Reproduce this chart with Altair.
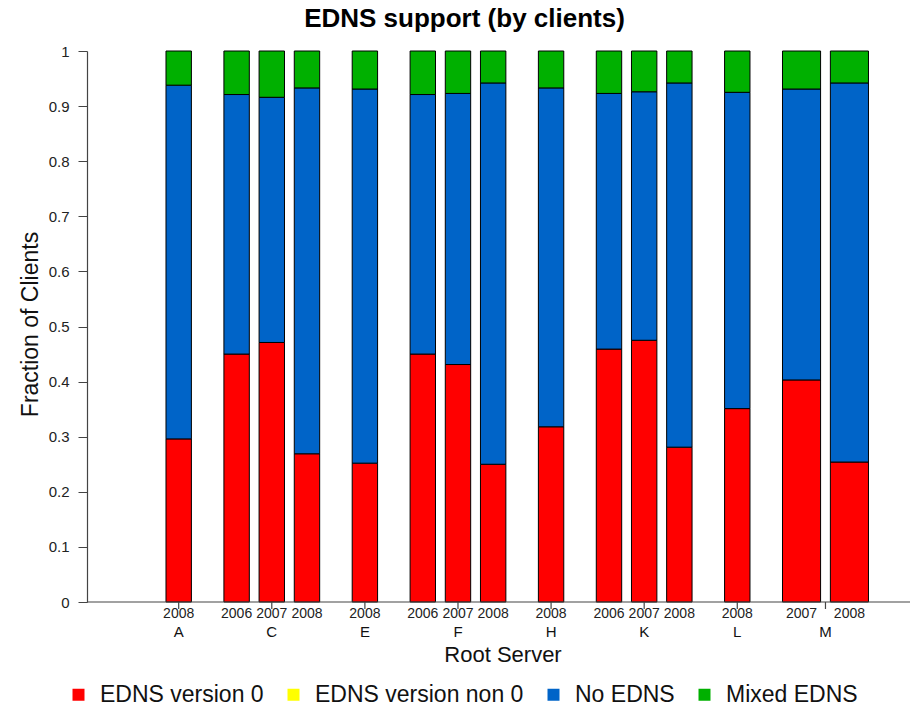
import altair as alt
import pandas as pd

# Root servers and collection years, one entry per bar
servers = ["A", "C", "C", "C", "E", "F", "F", "F", "H", "K", "K", "K", "L", "M", "M"]
years = [2008, 2006, 2007, 2008, 2008, 2006, 2007, 2008, 2008, 2006, 2007, 2008, 2008, 2007, 2008]

# Fraction of clients in each EDNS class
edns_v0 = [0.296, 0.450, 0.471, 0.269, 0.252, 0.450, 0.431, 0.250, 0.318, 0.459, 0.475, 0.281, 0.351, 0.403, 0.254]
edns_non0 = [0.0] * 15
no_edns = [0.642, 0.471, 0.445, 0.664, 0.679, 0.471, 0.492, 0.692, 0.615, 0.464, 0.451, 0.661, 0.574, 0.528, 0.688]
mixed_edns = [0.062, 0.079, 0.084, 0.067, 0.069, 0.079, 0.077, 0.058, 0.067, 0.077, 0.074, 0.058, 0.075, 0.069, 0.058]

categories = ["EDNS version 0", "EDNS version non 0", "No EDNS", "Mixed EDNS"]
colors = ["#ff0000", "#ffff00", "#0064c8", "#00b000"]

# Bar layout along the x scale (units of one bar width)
LEAD = 3.11
GROUP_GAP = 1.28
INNER_GAP = 0.385
WIDE = {"M": 1.5}
X_MAX = 32.4

W, H = 823, 551
FONT = "Liberation Sans"
AXIS_COLOR = "#444"

rows, bars = [], []
x = LEAD
prev = None
for i, (srv, yr) in enumerate(zip(servers, years)):
    if prev is not None:
        x += INNER_GAP if srv == prev else GROUP_GAP
    w = WIDE.get(srv, 1.0)
    x0, x1 = x, x + w
    x = x1
    prev = srv
    bars.append({"bar": i, "server": srv, "year": str(yr), "x0": x0, "x1": x1, "xc": (x0 + x1) / 2})
    for k, vals in enumerate([edns_v0, edns_non0, no_edns, mixed_edns]):
        rows.append({"bar": i, "x0": x0, "x1": x1, "category": categories[k], "order": k, "value": vals[i]})

long_df = pd.DataFrame(rows)
bar_df = pd.DataFrame(bars)
grp_df = bar_df.groupby("server", as_index=False).agg(lo=("x0", "min"), hi=("x1", "max"))
grp_df["center"] = (grp_df["lo"] + grp_df["hi"]) / 2

xscale = alt.Scale(domain=[0, X_MAX], nice=False, zero=False)

stacked = (
    alt.Chart(long_df)
    .transform_stack(stack="value", groupby=["bar"], as_=["y0", "y1"],
                     sort=[alt.SortField("order", order="ascending")])
    .transform_filter("datum.value > 0")
    .mark_bar(stroke="black", strokeWidth=1)
    .encode(
        x=alt.X("x0:Q", scale=xscale, axis=None),
        x2="x1:Q",
        y=alt.Y("y0:Q", scale=alt.Scale(domain=[0, 1], nice=False),
                axis=alt.Axis(values=[i / 10 for i in range(11)], format="~g", grid=False,
                              tickSize=9, tickColor=AXIS_COLOR, domainColor=AXIS_COLOR, domainWidth=1.2,
                              labelFont=FONT, labelFontSize=15, labelColor="#222", labelPadding=9,
                              title="Fraction of Clients", titleFont=FONT, titleFontSize=23,
                              titleFontWeight="normal", titleColor="#111",
                              titleBaseline="middle", titleX=-57, titleY=273)),
        y2="y1:Q",
        color=alt.Color("category:N", scale=alt.Scale(domain=categories, range=colors),
                        legend=alt.Legend(orient="none", legendX=-20, legendY=632,
                                          direction="horizontal", title=None,
                                          symbolType="square", symbolSize=144,
                                          symbolStrokeWidth=0, labelFont=FONT,
                                          labelFontSize=23, labelColor="#111",
                                          labelOffset=10, columnPadding=18, labelLimit=400)),
        order=alt.Order("order:Q"),
    )
)

# x baseline across the full plot width
baseline = alt.Chart(pd.DataFrame({"k": [0]})).mark_rule(color=AXIS_COLOR, strokeWidth=1.2).encode(
    x=alt.value(0), x2=alt.value(W), y=alt.value(H)
)

year_labels = alt.Chart(bar_df).mark_text(font=FONT, fontSize=14, color="#222", baseline="middle").encode(
    x=alt.X("xc:Q", scale=xscale, axis=None),
    y=alt.value(H + 12),
    text="year:N",
)

server_labels = alt.Chart(grp_df).mark_text(font=FONT, fontSize=15, color="#111", baseline="middle").encode(
    x=alt.X("center:Q", scale=xscale, axis=None),
    y=alt.value(H + 30),
    text="server:N",
)

group_ticks = alt.Chart(grp_df).mark_rule(color=AXIS_COLOR, strokeWidth=1.2).encode(
    x=alt.X("center:Q", scale=xscale, axis=None),
    y=alt.value(H),
    y2=alt.value(H + 7),
)

x_title = alt.Chart(pd.DataFrame({"t": ["Root Server"]})).mark_text(
    font=FONT, fontSize=22, color="#111", baseline="middle", align="center"
).encode(x=alt.value(416), y=alt.value(H + 53), text="t:N")

chart = (
    alt.layer(stacked, baseline, group_ticks, year_labels, server_labels, x_title)
    .properties(
        width=W, height=H,
        background="white",
        autosize=alt.AutoSizeParams(type="none"),
        padding={"left": 87, "top": 51, "right": 0, "bottom": 107},
        title=alt.TitleParams("EDNS support (by clients)", font=FONT, fontSize=26,
                              fontWeight="bold", color="#000", anchor="middle", dx=-34, offset=12),
    )
    .configure_view(stroke=None, strokeWidth=0)
    .configure_axis(grid=False)
)

chart.save("out.html", embed_options={"renderer": "svg", "actions": False})
